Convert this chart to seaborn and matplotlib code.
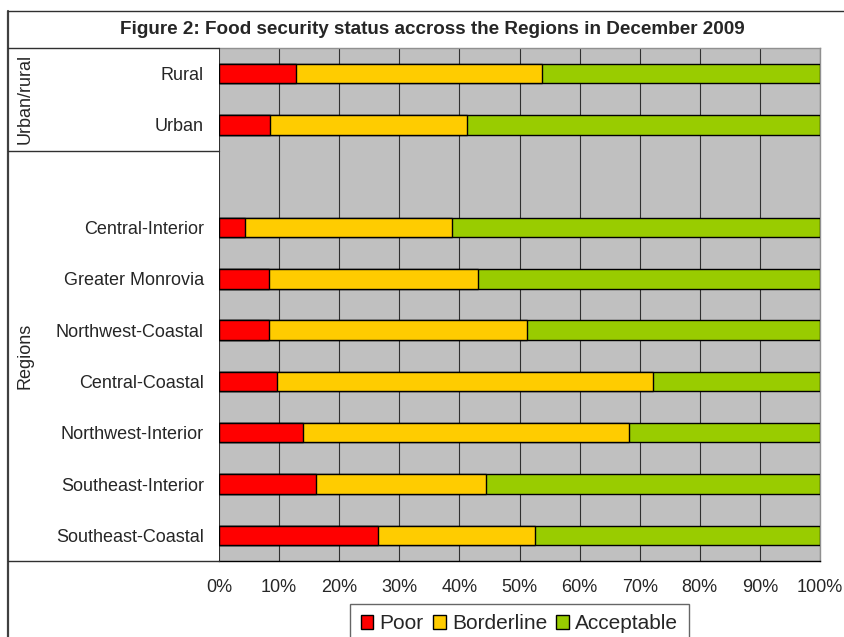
import matplotlib
matplotlib.use("Agg")
import matplotlib.pyplot as plt
from matplotlib.lines import Line2D
from matplotlib.patches import Patch
from matplotlib.transforms import blended_transform_factory
import numpy as np
import pandas as pd
import seaborn as sns

# Food consumption groups (% of households), December 2009
categories = ["Rural", "Urban", "Central-Interior", "Greater Monrovia",
              "Northwest-Coastal", "Central-Coastal", "Northwest-Interior",
              "Southeast-Interior", "Southeast-Coastal"]
groups = ["Urban/rural", "Urban/rural", "Regions", "Regions", "Regions",
          "Regions", "Regions", "Regions", "Regions"]
poor = [12.8, 8.5, 4.4, 8.3, 8.3, 9.7, 13.9, 16.1, 26.4]
borderline = [40.9, 32.8, 34.3, 34.8, 42.9, 62.5, 54.4, 28.4, 26.2]
acceptable = [46.3, 58.7, 61.3, 56.9, 48.8, 27.8, 31.7, 55.5, 47.4]
series_names = ["Poor", "Borderline", "Acceptable"]
xticks = list(range(0, 101, 10))
title = "Figure 2: Food security status accross the Regions in December 2009"

colors = {"Poor": "#FF0000", "Borderline": "#FFCC00", "Acceptable": "#99CC00"}

sns.set_style("white")
plt.rcParams["font.family"] = ["Liberation Sans", "DejaVu Sans"]

df = pd.DataFrame({"category": categories, "group": groups, "Poor": poor,
                   "Borderline": borderline, "Acceptable": acceptable})
df["cum_poor"] = df["Poor"]
df["cum_border"] = df["Poor"] + df["Borderline"]
df["cum_all"] = df["cum_border"] + df["Acceptable"]

# an empty slot separates the two category groups
order = categories[:2] + [" "] + categories[2:]

W, H = 845, 637
fig = plt.figure(figsize=(W / 100, H / 100), dpi=100)
ax = fig.add_axes([219 / W, (H - 561) / H, (820 - 219) / W, (561 - 48) / H])
ax.set_facecolor("#C0C0C0")

for col, name in [("cum_all", "Acceptable"), ("cum_border", "Borderline"),
                  ("cum_poor", "Poor")]:
    sns.barplot(data=df, y="category", x=col, order=order, orient="h",
                color=colors[name], saturation=1, edgecolor="black",
                linewidth=1.0, width=0.38, errorbar=None, ax=ax, zorder=3)

ax.set_xlim(0, 100)
ax.set_xticks(xticks)
ax.set_xticklabels([f"{v}%" for v in xticks], fontsize=13)
ax.set_xlabel("")
ax.set_ylabel("")
ax.tick_params(axis="y", length=0, pad=11, labelsize=13)
ax.tick_params(axis="x", direction="out", length=3, width=0.8, color="black",
               pad=10)
ax.xaxis.grid(True, color="#303030", linewidth=0.8)
ax.yaxis.grid(False)
ax.set_axisbelow(True)
for side in ["top", "right"]:
    ax.spines[side].set_color("#909090")
    ax.spines[side].set_linewidth(1.0)
ax.spines["left"].set_visible(False)
ax.spines["bottom"].set_color("black")
ax.spines["bottom"].set_linewidth(1.0)

# frame and grouping lines of the category table
fx = lambda px: px / W
fy = lambda py: 1 - py / H
line_kw = dict(color="#303030", linewidth=1.0, clip_on=False)
fig.add_artist(Line2D([fx(8), fx(8)], [fy(11), 0], transform=fig.transFigure,
                      color="#404040", linewidth=1.6))
fig.add_artist(Line2D([fx(8), 1], [fy(11), fy(11)], transform=fig.transFigure,
                      **line_kw))
blend = blended_transform_factory(fig.transFigure, ax.transData)
ylo, yhi = ax.get_ylim()
for yv in [min(ylo, yhi), 1.5, max(ylo, yhi)]:
    fig.add_artist(Line2D([fx(8), fx(219)], [yv, yv], transform=blend,
                          **line_kw))

for name, yc in [("Urban/rural", 0.5), ("Regions", 5.5)]:
    fig.text(fx(25), yc, name, rotation=90, ha="center", va="center",
             fontsize=13, transform=blend)

fig.text(fx(432), fy(30), title, ha="center", va="center", fontsize=13.6,
         fontweight="bold")

handles = [Patch(facecolor=colors[n], edgecolor="black", linewidth=1.0)
           for n in series_names]
leg = fig.legend(handles, series_names, loc="upper center", ncol=3,
                 bbox_to_anchor=(fx(519.5), fy(604)), frameon=True,
                 fontsize=15, handlelength=0.6, handleheight=0.6,
                 handletextpad=0.3, columnspacing=0.45, borderpad=0.5,
                 borderaxespad=0, fancybox=False)
leg.get_frame().set_edgecolor("#404040")
leg.get_frame().set_linewidth(1.0)

fig.savefig("out.png", dpi=100, facecolor="white")
